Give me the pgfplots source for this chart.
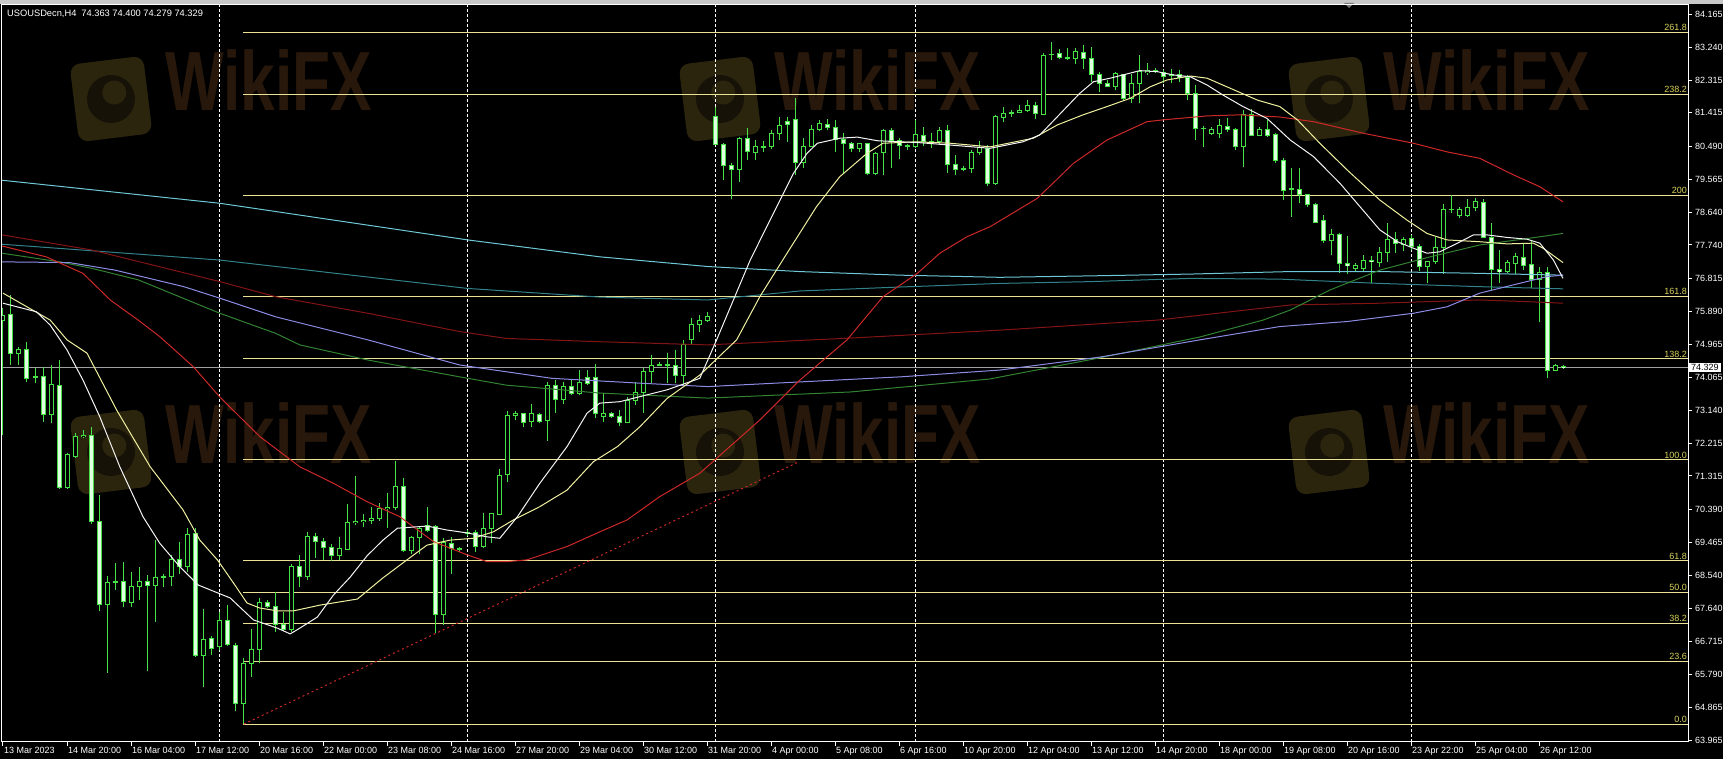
\documentclass[border=0pt]{standalone}
\usepackage{pgfplots}
\pgfplotsset{compat=1.18}
\usepackage{pgfplotstable}
\usepackage{fontspec}
\setmainfont{Liberation Sans}
\definecolor{cgreen}{RGB}{70,225,70}
\definecolor{cbear}{RGB}{225,255,225}
\definecolor{fibline}{RGB}{235,225,150}
\definecolor{fibtext}{RGB}{215,210,90}
\definecolor{maW}{RGB}{245,245,245}
\definecolor{maY}{RGB}{240,240,160}
\definecolor{maR}{RGB}{205,40,40}
\definecolor{maDR}{RGB}{130,20,20}
\definecolor{maG}{RGB}{50,130,50}
\definecolor{maL}{RGB}{140,140,230}
\definecolor{maC}{RGB}{110,200,215}
\definecolor{maT}{RGB}{50,130,140}
\definecolor{wm}{RGB}{44,37,14}
\definecolor{wmin}{RGB}{22,18,7}
\definecolor{wmtext}{RGB}{40,24,11}
\definecolor{cpline}{RGB}{160,160,160}
\definecolor{topstrip}{RGB}{200,200,200}
\definecolor{tri}{RGB}{120,120,120}

\pgfplotstableread{
i o h l c
0 75.65 75.99 72.45 75.79
1 75.82 76.35 74.40 74.71
2 74.71 74.91 74.40 74.82
3 74.82 75.05 73.94 74.03
4 74.09 74.32 73.90 74.07
5 74.07 74.35 72.82 73.03
6 73.03 74.40 72.79 73.86
7 73.83 74.54 70.94 71.00
8 71.00 71.96 70.96 71.90
9 71.87 72.50 71.80 72.42
10 72.42 72.59 72.36 72.45
11 72.43 72.68 69.99 70.04
12 70.04 70.78 67.56 67.75
13 67.74 68.53 65.82 68.36
14 68.36 68.88 68.14 68.37
15 68.37 68.91 67.68 67.82
16 67.80 68.65 67.68 68.23
17 68.23 68.77 67.86 68.37
18 68.37 68.56 65.89 68.26
19 68.26 69.53 67.26 68.49
20 68.49 68.60 68.22 68.51
21 68.51 69.11 68.26 68.98
22 68.99 69.48 68.60 68.79
23 68.79 69.86 68.65 69.70
24 69.70 69.86 66.28 66.33
25 66.33 67.61 65.45 66.77
26 66.79 66.86 66.33 66.52
27 66.56 67.54 66.47 67.30
28 67.30 67.72 66.58 66.63
29 66.61 66.66 64.78 64.99
30 64.99 66.24 64.41 66.10
31 66.10 67.07 65.73 66.49
32 66.49 67.91 66.12 67.80
33 67.80 67.86 67.63 67.68
34 67.68 68.09 66.98 67.19
35 67.19 67.54 67.00 67.05
36 67.05 68.86 66.98 68.81
37 68.81 69.11 68.23 68.53
38 68.53 69.76 68.42 69.62
39 69.64 69.72 69.02 69.48
40 69.48 69.58 68.98 69.33
41 69.33 69.42 68.96 69.09
42 69.09 69.62 68.98 69.30
43 69.28 70.53 69.25 70.01
44 70.01 71.32 69.95 70.04
45 70.04 70.27 69.90 70.08
46 70.08 70.46 69.98 70.13
47 70.13 70.55 70.07 70.41
48 70.41 70.83 69.88 70.44
49 70.44 71.74 70.37 71.03
50 71.03 71.25 69.21 69.25
51 69.25 69.64 69.14 69.60
52 69.60 69.92 69.14 69.84
53 69.93 70.46 69.76 69.81
54 69.90 69.95 66.94 67.47
55 67.47 69.58 67.17 69.46
56 69.44 69.62 68.60 69.30
57 69.30 69.34 69.21 69.28
58 69.73 69.81 69.64 69.75
59 69.73 69.81 69.21 69.36
60 69.36 70.29 69.30 69.86
61 69.86 70.29 69.44 70.26
62 70.25 71.52 70.23 71.33
63 71.36 73.13 71.15 72.99
64 73.00 73.13 72.87 73.06
65 73.04 73.08 72.68 72.79
66 72.82 73.32 72.68 73.04
67 73.01 73.06 72.78 72.84
68 72.87 73.94 72.29 73.84
69 73.84 73.98 73.07 73.45
70 73.43 73.94 73.33 73.81
71 73.81 74.00 73.56 73.61
72 73.61 74.26 73.56 73.92
73 74.05 74.26 73.84 73.89
74 74.05 74.43 72.92 73.04
75 72.98 73.61 72.82 73.06
76 73.04 73.10 72.92 72.96
77 72.96 73.15 72.70 72.81
78 72.81 73.52 72.78 73.41
79 73.41 73.94 73.29 73.64
80 73.64 74.31 73.06 74.21
81 74.21 74.68 73.89 74.40
82 74.40 74.49 74.37 74.42
83 74.42 74.73 73.89 74.40
84 74.40 74.82 73.89 74.12
85 74.12 75.10 73.84 74.98
86 75.10 75.71 74.96 75.54
87 75.54 75.79 75.33 75.65
88 75.65 75.88 75.60 75.76
89 81.31 81.57 80.52 80.54
90 80.54 80.58 79.55 79.94
91 79.94 80.02 79.01 79.83
92 79.83 80.75 79.50 80.71
93 80.71 80.99 80.10 80.33
94 80.32 80.66 80.10 80.47
95 80.47 80.64 80.32 80.48
96 80.47 80.94 80.41 80.85
97 80.85 81.29 80.66 81.05
98 81.17 81.31 80.61 81.10
99 81.22 81.82 79.69 80.03
100 80.03 80.71 79.87 80.49
101 80.49 81.08 80.47 80.96
102 80.96 81.22 80.92 81.11
103 81.08 81.25 80.94 81.01
104 81.01 81.22 80.33 80.68
105 80.68 80.86 79.75 80.55
106 80.55 80.61 80.33 80.43
107 80.43 80.58 80.33 80.55
108 80.55 80.58 79.69 79.73
109 79.73 80.34 79.69 80.29
110 80.31 80.96 79.69 80.92
111 80.92 80.99 79.87 80.66
112 80.64 80.73 80.12 80.52
113 80.50 80.55 80.38 80.49
114 80.49 81.22 80.43 80.82
115 80.80 81.03 80.49 80.61
116 80.61 80.85 80.45 80.60
117 80.61 81.03 80.52 80.92
118 80.92 81.08 79.73 79.98
119 79.98 80.24 79.69 79.85
120 79.86 79.94 79.80 79.87
121 79.87 80.38 79.75 80.31
122 80.31 80.64 80.24 80.46
123 80.43 80.52 79.39 79.44
124 79.44 81.36 79.41 81.30
125 81.30 81.57 81.17 81.40
126 81.41 81.50 81.29 81.42
127 81.42 81.63 81.40 81.49
128 81.48 81.77 81.45 81.61
129 81.61 81.72 81.24 81.40
130 81.38 83.07 81.36 83.02
131 83.03 83.40 82.88 83.05
132 83.07 83.18 82.90 82.96
133 82.95 83.21 82.88 82.95
134 82.93 83.21 82.77 83.12
135 83.09 83.30 82.63 82.93
136 82.93 83.26 82.28 82.47
137 82.47 82.56 82.00 82.22
138 82.22 82.33 82.16 82.16
139 82.16 82.56 82.05 82.50
140 82.47 82.51 81.77 81.82
141 81.82 82.51 81.68 82.24
142 82.24 83.02 81.68 82.56
143 82.53 82.81 82.47 82.59
144 82.59 82.66 82.52 82.59
145 82.53 82.61 82.25 82.44
146 82.46 82.63 82.24 82.47
147 82.49 82.61 82.28 82.40
148 82.40 82.47 81.77 81.96
149 81.96 82.19 80.66 80.99
150 80.99 81.05 80.46 80.98
151 80.83 81.03 80.80 80.96
152 80.85 81.24 80.71 81.05
153 81.03 81.26 80.89 80.94
154 80.94 80.99 80.38 80.49
155 80.49 81.50 79.92 81.36
156 81.36 81.51 80.77 80.80
157 80.80 81.02 80.77 80.96
158 80.96 81.22 80.75 80.80
159 80.80 80.85 80.03 80.08
160 80.10 80.15 78.99 79.27
161 79.30 79.87 78.53 79.29
162 79.29 79.87 78.90 79.15
163 79.15 79.16 78.79 78.87
164 78.87 78.91 78.34 78.36
165 78.41 78.57 77.79 77.86
166 77.86 78.18 77.46 78.02
167 78.02 78.06 76.97 77.23
168 77.23 77.99 76.93 77.16
169 77.09 77.23 76.99 77.18
170 77.09 77.46 76.99 77.32
171 77.30 77.43 76.67 77.27
172 77.24 77.69 77.12 77.52
173 77.52 78.34 77.27 77.90
174 77.90 78.11 77.51 77.77
175 77.74 77.97 77.58 77.90
176 77.92 78.02 77.60 77.69
177 77.69 77.77 77.02 77.14
178 77.14 77.30 76.69 77.27
179 77.27 77.97 77.21 77.67
180 77.67 78.88 76.93 78.73
181 78.73 79.13 78.62 78.74
182 78.57 78.80 78.49 78.73
183 78.57 79.01 78.53 78.79
184 78.79 79.04 78.69 78.94
185 78.92 79.01 77.93 77.95
186 77.95 78.36 76.49 77.06
187 77.06 77.60 76.69 76.99
188 76.99 77.32 76.96 77.25
189 77.23 77.51 76.93 77.41
190 77.40 77.79 77.04 77.18
191 77.21 77.88 76.53 76.78
192 76.78 77.13 75.60 76.97
193 76.97 77.13 74.03 74.24
194 74.24 74.43 74.23 74.40
195 74.363 74.400 74.279 74.329
}\candles

\newcommand{\fibfont}{\fontsize{9}{10}\selectfont}

\begin{document}
\begin{tikzpicture}[x=1pt,y=1pt]
\fill[black] (0,0) rectangle (1723,759);
\fill[topstrip] (0,755) rectangle (1723,759);
\fill[tri] (1344,756) -- (1354,756) -- (1349,751) -- cycle;
% watermarks (logo + text, slightly tilted)
\foreach \X/\Y in {111/99, 720/99, 1329/99, 111/452, 720/452, 1329/452} {
  \begin{scope}[shift={(\X,759-\Y)}, rotate=7]
    \fill[wm, rounded corners=10pt] (-37,-39) rectangle (37,39);
    \fill[wmin] (0,0) circle (24);
    \fill[wm] (4,6) circle (12);
    \node[text=wmtext, anchor=west, font=\bfseries\fontsize{84}{84}\selectfont, inner sep=0pt, xscale=0.74] at (56,12) {WikiFX};
  \end{scope}
}
\node[anchor=base west, text=white, inner sep=0pt, font=\fontsize{9.3}{10}\selectfont] at (7,742) {USOUSDecn,H4\hspace{5pt}74.363 74.400 74.279 74.329};

\begin{axis}[
  at={(2pt,17pt)}, anchor=south west,
  scale only axis, width=1686pt, height=737pt,
  xmin=-0.125, xmax=210.625, ymin=63.913, ymax=84.416,
  clip mode=individual,
  axis line style={white, line width=1pt},
  xtick={0,8,...,192},
  xticklabels={13 Mar 2023, 14 Mar 20:00, 16 Mar 04:00, 17 Mar 12:00, 20 Mar 16:00, 22 Mar 00:00, 23 Mar 08:00, 24 Mar 16:00, 27 Mar 20:00, 29 Mar 04:00, 30 Mar 12:00, 31 Mar 20:00, 4 Apr 00:00, 5 Apr 08:00, 6 Apr 16:00, 10 Apr 20:00, 12 Apr 04:00, 13 Apr 12:00, 14 Apr 20:00, 18 Apr 00:00, 19 Apr 08:00, 20 Apr 16:00, 23 Apr 22:00, 25 Apr 04:00, 26 Apr 12:00},
  ytick={84.165,83.240,82.315,81.415,80.490,79.565,78.640,77.740,76.815,75.890,74.965,74.065,73.140,72.215,71.315,70.390,69.465,68.540,67.640,66.715,65.790,64.865,63.965},
  yticklabels={84.165,83.240,82.315,81.415,80.490,79.565,78.640,77.740,76.815,75.890,74.965,74.065,73.140,72.215,71.315,70.390,69.465,68.540,67.640,66.715,65.790,64.865,63.965},
  xtick pos=left, ytick pos=right,
  tick align=outside, major tick length=4pt,
  tick style={white, line width=1pt},
  xticklabel style={anchor=north west, inner sep=0pt, text=white, font=\fontsize{9}{10}\selectfont, xshift=1pt, yshift=-1pt},
  yticklabel style={anchor=west, inner sep=0pt, text=white, font=\fontsize{9}{10}\selectfont, xshift=3pt},
]
% period separators
\foreach \s in {27.1,58.1,89.1,114.06,145.1,176} {
  \edef\tmp{\noexpand\draw[white, dash pattern=on 3pt off 2pt, line width=1pt] (axis cs:\s,63.913) -- (axis cs:\s,84.416);}
  \tmp
}
% fibonacci levels
\foreach \v/\t in {64.41/0.0, 66.145/23.6, 67.218/38.2, 68.085/50.0, 68.952/61.8, 71.76/100.0, 74.568/138.2, 76.302/161.8, 79.11/200, 81.918/238.2, 83.652/261.8} {
  \edef\tmp{\noexpand\draw[fibline, line width=1pt] (axis cs:30,\v) -- (axis cs:210.625,\v);
    \noexpand\node[anchor=south east, inner sep=0pt, text=fibtext, font=\noexpand\fibfont] at (axis cs:210.5,\v) [yshift=1.5pt] {\t};}
  \tmp
}
% current price line
\addplot[cpline, line width=1pt, mark=none] coordinates {(-0.125,74.329) (210.625,74.329)};
% trend line
\addplot[maR, line width=1pt, dash pattern=on 2pt off 3pt, mark=none] coordinates {(30.1,64.41) (99.6,71.72)};

% candles: wicks
\addplot[draw=none, mark=none, forget plot, error bars/.cd, y dir=both, y explicit, error mark=none, error bar style={draw=cgreen, line width=1pt}]
  table[x=i, y expr={(\thisrow{h}+\thisrow{l})/2}, y error expr={(\thisrow{h}-\thisrow{l})/2}] {\candles};
% bodies outline
\addplot[draw=none, mark=none, forget plot, error bars/.cd, y dir=both, y explicit, error mark=none, error bar style={draw=cgreen, line width=5pt}]
  table[x=i, y expr={(\thisrow{o}+\thisrow{c})/2}, y error expr={abs(\thisrow{o}-\thisrow{c})/2+0.0139}] {\candles};
% bull inner
\addplot[draw=none, mark=none, forget plot, error bars/.cd, y dir=both, y explicit, error mark=none, error bar style={draw=black, line width=3pt}]
  table[x=i, y expr={(\thisrow{o}+\thisrow{c})/2}, y error expr={max(0,(\thisrow{c}-\thisrow{o})/2-0.0139)}] {\candles};
% bear inner
\addplot[draw=none, mark=none, forget plot, error bars/.cd, y dir=both, y explicit, error mark=none, error bar style={draw=cbear, line width=3pt}]
  table[x=i, y expr={(\thisrow{o}+\thisrow{c})/2}, y error expr={max(0,(\thisrow{o}-\thisrow{c})/2-0.0139)}] {\candles};

% moving averages
\addplot[maC, line width=1pt, mark=none] coordinates {(-0.1,79.54) (27.1,78.90) (58.1,77.88) (74.6,77.41) (88.1,77.14) (99.6,77.00) (112.1,76.90) (124.6,76.84) (135.9,76.88) (148.4,76.93) (160.9,77.00) (172.1,77.00) (184.6,76.95) (195.0,76.90)};
\addplot[maT, line width=1pt, mark=none] coordinates {(-0.1,77.76) (27.1,77.32) (58.1,76.53) (74.6,76.29) (88.1,76.21) (99.6,76.46) (112.1,76.57) (124.6,76.67) (135.9,76.72) (148.4,76.81) (159.6,76.79) (172.1,76.67) (184.6,76.58) (195.0,76.52)};
\addplot[maDR, line width=1pt, mark=none] coordinates {(-0.1,78.02) (11.1,77.60) (27.1,76.72) (34.1,76.30) (45.6,75.84) (57.1,75.33) (62.9,75.14) (74.4,75.05) (88.1,74.96) (105.9,75.15) (124.6,75.37) (144.3,75.65) (160.9,76.07) (172.1,76.12) (184.6,76.21) (190.9,76.16) (195.0,76.12)};
\addplot[maG, line width=1pt, mark=none] coordinates {(-0.1,77.51) (7.1,77.27) (11.1,77.09) (16.9,76.77) (27.1,75.84) (34.1,75.28) (37.1,74.96) (45.6,74.54) (57.1,74.07) (62.9,73.84) (74.6,73.62) (88.1,73.48) (105.9,73.65) (123.3,74.01) (137.1,74.60) (149.6,75.18) (157.5,75.65) (160.9,75.93) (165.9,76.49) (172.1,77.04) (178.4,77.41) (184.6,77.74) (190.9,77.93) (195.0,78.06)};
\addplot[maL, line width=1pt, mark=none] coordinates {(-0.1,77.27) (8.3,77.25) (14.0,77.04) (22.6,76.58) (27.1,76.26) (34.1,75.74) (45.6,75.10) (57.1,74.40) (68.6,74.03) (80.1,73.89) (88.1,73.80) (99.6,73.93) (112.1,74.07) (124.6,74.26) (137.1,74.62) (149.6,75.10) (159.6,75.47) (168.0,75.61) (176.3,75.84) (180.5,76.02) (184.6,76.40) (188.8,76.63) (193.0,76.86) (195.0,76.90)};
\addplot[maR, line width=1pt, mark=none] coordinates {(-0.1,77.71) (5.4,77.41) (10.0,76.95) (13.4,76.21) (16.9,75.65) (19.6,75.19) (23.8,74.35) (27.1,73.51) (32.1,72.41) (37.1,71.57) (41.3,71.11) (45.5,70.60) (49.6,70.18) (53.8,69.49) (58.0,69.12) (60.5,68.93) (63.0,68.93) (65.5,68.98) (70.5,69.35) (74.6,69.76) (78.0,70.09) (82.1,70.74) (87.1,71.39) (94.6,72.87) (99.6,73.98) (105.5,75.10) (110.0,76.30) (114.3,76.95) (117.1,77.51) (120.5,77.97) (123.4,78.25) (129.3,79.04) (133.8,80.01) (138.0,80.66) (143.0,81.17) (145.0,81.22) (150.5,81.33) (154.6,81.36) (159.6,81.30) (163.8,81.17) (170.0,80.85) (176.3,80.57) (180.5,80.33) (184.6,80.15) (188.8,79.69) (192.1,79.36) (195.0,78.94)};
\addplot[maY, line width=1pt, mark=none] coordinates {(0,76.40) (5.9,75.65) (8.0,75.10) (10.5,74.73) (14.2,73.15) (18.4,71.57) (22.5,70.37) (24.6,69.53) (26.8,68.98) (28.8,68.34) (30.5,67.78) (32.1,67.64) (34.3,67.56) (36.3,67.56) (39.6,67.72) (44.3,67.89) (47.5,68.48) (50.5,68.98) (53.0,69.39) (55.9,69.53) (58.8,69.58) (61.3,69.76) (63.8,70.09) (67.1,70.46) (70.5,70.92) (73.8,71.71) (76.8,72.13) (79.6,72.68) (83.0,73.47) (87.1,74.12) (91.7,75.10) (94.6,76.30) (98.0,77.51) (101.7,78.81) (104.6,79.64) (108.0,80.29) (110.0,80.57) (114.2,80.61) (118.4,80.57) (123.4,80.47) (128.8,80.71) (131.8,81.08) (135.0,81.36) (138.0,81.59) (140.9,81.82) (143.4,82.14) (145.5,82.33) (148.4,82.44) (150.5,82.38) (153.4,82.10) (156.8,81.77) (159.6,81.59) (161.8,81.22) (164.6,80.57) (168.0,79.83) (172.1,78.99) (175.5,78.43) (178.0,78.06) (180.5,77.88) (184.6,77.83) (188.0,77.77) (191.3,77.79) (192.5,77.65) (195.0,77.25)};
\addplot[maW, line width=1pt, mark=none] coordinates {(0,76.12) (4.2,75.88) (5.9,75.51) (8.0,74.82) (10.0,73.98) (12.1,72.96) (14.6,71.57) (17.5,70.18) (19.6,69.44) (22.1,68.79) (24.4,68.28) (28.4,67.92) (31.3,67.31) (34.3,67.08) (35.9,66.92) (37.1,67.08) (39.3,67.39) (41.3,68.00) (43.4,68.50) (45.5,69.09) (47.5,69.53) (49.3,69.86) (53.0,69.92) (55.5,69.81) (58.0,69.73) (60.5,69.62) (62.1,69.58) (64.3,70.18) (67.1,71.11) (70.5,72.13) (73.0,73.06) (74.6,73.34) (77.1,73.38) (79.6,73.52) (83.0,73.71) (87.1,74.03) (89.2,75.10) (93.4,77.32) (96.3,78.62) (98.8,79.73) (100.5,80.29) (101.8,80.57) (104.6,80.71) (106.8,80.74) (109.3,80.64) (112.1,80.61) (114.3,80.59) (118.4,80.52) (123.4,80.43) (127.5,80.61) (129.6,80.80) (131.8,81.31) (134.6,81.96) (136.3,82.28) (138.4,82.38) (140.0,82.47) (142.1,82.59) (144.3,82.56) (146.3,82.47) (148.4,82.42) (150.5,82.19) (152.5,81.91) (155.0,81.59) (158.0,81.26) (160.9,80.66) (163.8,80.20) (167.1,79.46) (169.6,78.81) (172.1,78.16) (174.3,77.83) (176.3,77.65) (178.0,77.51) (179.6,77.55) (181.8,77.79) (183.8,78.02) (185.5,78.02) (188.0,77.95) (190.5,77.90) (192.1,77.79) (193.8,77.32) (195.0,76.81)};

% current price label
\node[anchor=west, fill=white, text=black, inner xsep=2pt, inner ysep=1.5pt, font=\fontsize{9}{10}\selectfont] at (axis cs:210.625,74.329) [xshift=1pt] {74.329};
\end{axis}
\pgfresetboundingbox
\useasboundingbox (0,0) rectangle (1723,759);
\end{tikzpicture}
\end{document}
